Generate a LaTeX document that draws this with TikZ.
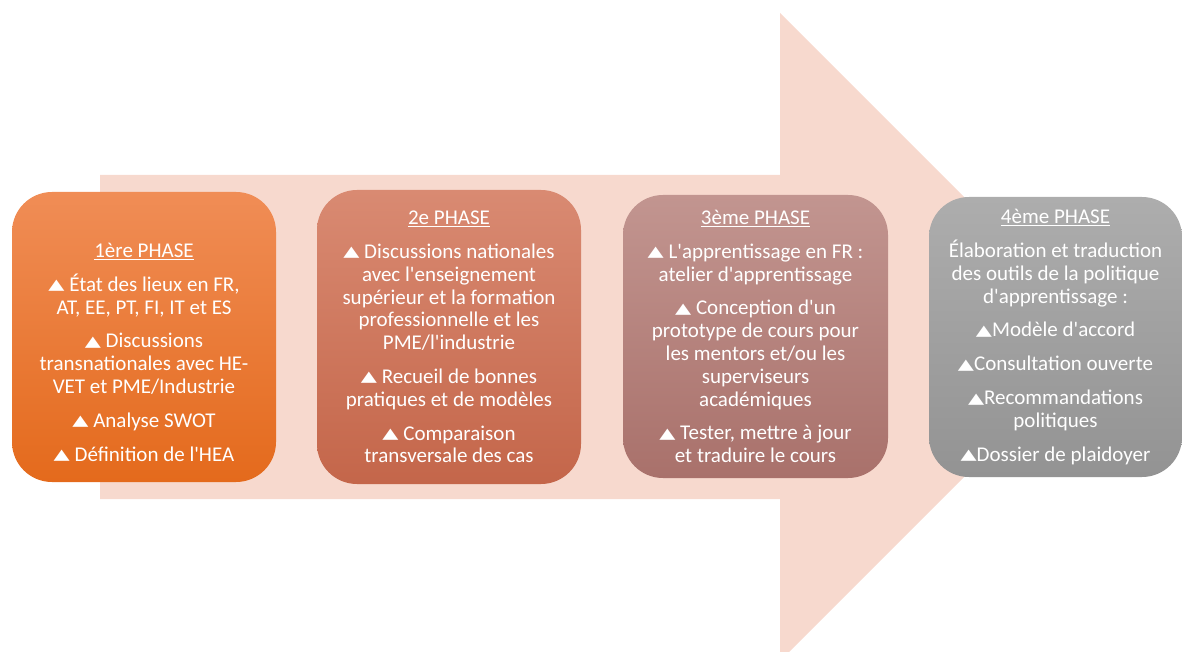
\documentclass[tikz,border=0pt]{standalone}
\usepackage{fontspec}
\usepackage{graphicx}
\setmainfont{Carlito}[Ligatures=TeXOff]
\newfontfamily\symfont{DejaVu Sans}
\definecolor{arrowpink}{HTML}{F7D9CE}
\definecolor{oneTop}{HTML}{F08D56}
\definecolor{oneBot}{HTML}{E46A1C}
\definecolor{twoTop}{HTML}{D98A72}
\definecolor{twoBot}{HTML}{C4664A}
\definecolor{threeTop}{HTML}{C29590}
\definecolor{threeBot}{HTML}{A9716B}
\definecolor{fourTop}{HTML}{ADADAD}
\definecolor{fourBot}{HTML}{939393}
\newcommand{\tri}{\raisebox{1.5pt}{\scalebox{1}[0.7]{\symfont\fontsize{21}{21}\selectfont ▲}}}
\begin{document}
\begin{tikzpicture}[x=1pt,y=-1pt,
	phase_node/.style={rounded corners=40pt,align=center,text=white,inner sep=0pt,
		font=\fontsize{21}{22.8}\selectfont}]
		
		\useasboundingbox (0,0) rectangle (1182,652);
		\clip (0,0) rectangle (1182,652);
		
		% big arrow
		\fill[arrowpink] (100,175) -- (780,175) -- (780,13) -- (1104,337) -- (780,661) -- (780,499) -- (100,499) -- cycle;
		
		\node[phase_node,minimum width=264pt,minimum height=290pt,top color=oneTop,bottom color=oneBot] (p1) at (144,337)
			{\rule{0pt}{45pt}\underline{1ère PHASE}\\[11pt]
			\tri{} État des lieux en FR,\\ AT, EE, PT, FI, IT et ES\\[11pt]
			\tri{} Discussions\\ transnationales avec HE-\\ VET et PME/Industrie\\[11pt]
			\tri{} Analyse SWOT\\[11pt]
			\tri{} Définition de l'HEA};
		\node[phase_node,minimum width=264pt,minimum height=294pt,top color=twoTop,bottom color=twoBot] (p2) at (449,337)
			{\underline{2e PHASE}\\[11pt]
			\tri{} Discussions nationales\\ avec l'enseignement\\ supérieur et la formation\\ professionnelle et les\\ PME/l'industrie\\[11pt]
			\tri{} Recueil de bonnes\\ pratiques et de modèles\\[11pt]
			\tri{} Comparaison\\ transversale des cas};
		\node[phase_node,minimum width=265pt,minimum height=283pt,top color=threeTop,bottom color=threeBot] (p3) at (755.5,336.5)
			{\underline{3ème PHASE}\\[11pt]
			\tri{} L'apprentissage en FR :\\ atelier d'apprentissage\\[11pt]
			\tri{} Conception d'un\\ prototype de cours pour\\ les mentors et/ou les\\ superviseurs\\ académiques\\[11pt]
			\tri{} Tester, mettre à jour\\ et traduire le cours};
		\node[phase_node,minimum width=253pt,minimum height=280pt,top color=fourTop,bottom color=fourBot] (p4) at (1055.5,337)
			{\underline{4ème PHASE}\\[11pt]
			Élaboration et traduction\\ des outils de la politique\\ d'apprentissage :\\[11pt]
			\tri Modèle d'accord\\[11pt]
			\tri Consultation ouverte\\[11pt]
			\tri Recommandations\\ politiques\\[11pt]
			\tri Dossier de plaidoyer};
		\end{tikzpicture}
\end{document}
